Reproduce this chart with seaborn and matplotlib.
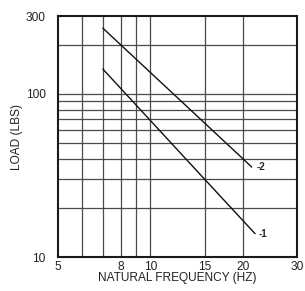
import matplotlib
matplotlib.use("Agg")
import matplotlib.pyplot as plt
import seaborn as sns
import pandas as pd
from matplotlib.ticker import FixedLocator, NullLocator, FixedFormatter

# Data
freq_1 = [7, 15, 21.9]
load_1 = [142, 30, 13.9]
freq_2 = [7, 8, 20, 21.35]
load_2 = [253, 200, 40, 35.6]
series_labels = ["-1", "-2"]

x_ticks = [5, 8, 10, 15, 20, 30]
y_ticks = [10, 100, 300]
x_grid = [6, 7, 8, 9, 10, 15, 20]
y_grid = [20, 30, 40, 50, 60, 70, 80, 90, 100, 200]

df = pd.DataFrame({
    "freq": freq_1 + freq_2,
    "load": load_1 + load_2,
    "series": [series_labels[0]] * len(freq_1) + [series_labels[1]] * len(freq_2),
})

sns.set_style("white")
plt.rcParams["font.family"] = ["Liberation Sans", "DejaVu Sans"]

fig = plt.figure(figsize=(3.05, 2.91), dpi=100)
ax = fig.add_axes([0.190, 0.1168, 0.784, 0.828])
ax.set_xscale("log")
ax.set_yscale("log")
ax.set_xlim(5, 30)
ax.set_ylim(10, 300)

for gx in x_grid:
    ax.axvline(gx, color="#4a4a4a", lw=0.9, zorder=1)
for gy in y_grid:
    ax.axhline(gy, color="#4a4a4a", lw=0.9, zorder=1)

sns.lineplot(data=df, x="freq", y="load", units="series", estimator=None,
             color="#111111", lw=1.0, ax=ax, zorder=3, sort=True)

ax.text(freq_1[-1] * 1.03, load_1[-1], series_labels[0], fontsize=7,
        fontweight="bold", va="center", ha="left")
ax.text(freq_2[-1] * 1.04, load_2[-1], series_labels[1], fontsize=7,
        fontweight="bold", va="center", ha="left")

ax.xaxis.set_major_locator(FixedLocator(x_ticks))
ax.xaxis.set_major_formatter(FixedFormatter([str(t) for t in x_ticks]))
ax.xaxis.set_minor_locator(NullLocator())
ax.yaxis.set_major_locator(FixedLocator(y_ticks))
ax.yaxis.set_major_formatter(FixedFormatter([str(t) for t in y_ticks]))
ax.yaxis.set_minor_locator(NullLocator())
ax.tick_params(axis="x", length=0, pad=3, labelsize=8.6, colors="#222222")
ax.tick_params(axis="y", length=0, pad=9, labelsize=8.6, colors="#222222")

ax.set_xlabel("NATURAL FREQUENCY (HZ)", fontsize=8.6, color="#222222", labelpad=-1)
ax.set_ylabel("LOAD (LBS)", fontsize=8.6, color="#222222", labelpad=2)

for s in ax.spines.values():
    s.set_visible(True)
    s.set_color("#1a1a1a")
    s.set_linewidth(1.5)
    s.set_zorder(4)

fig.savefig("out.png", dpi=100)
